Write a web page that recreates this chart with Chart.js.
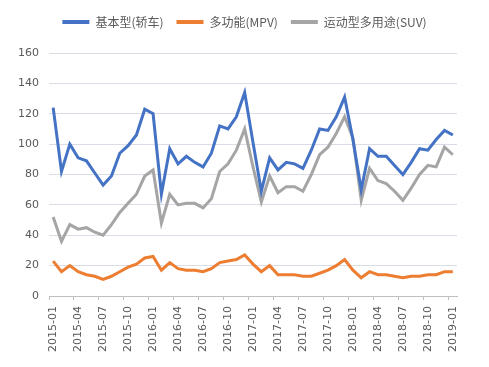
<!DOCTYPE html>
<html>
<head>
<meta charset="utf-8">
<script src="https://cdn.jsdelivr.net/npm/chart.js@4.4.1/dist/chart.umd.min.js"></script>
<style>
  html, body { margin: 0; padding: 0; background: #fff; }
  #wrap { width: 489px; height: 367px; }
</style>
</head>
<body>
<div id="wrap"><canvas id="c" width="489" height="367"></canvas></div>
<script>
// month labels
const months = [
  '2015-01','2015-02','2015-03','2015-04','2015-05','2015-06','2015-07','2015-08','2015-09','2015-10','2015-11','2015-12',
  '2016-01','2016-02','2016-03','2016-04','2016-05','2016-06','2016-07','2016-08','2016-09','2016-10','2016-11','2016-12',
  '2017-01','2017-02','2017-03','2017-04','2017-05','2017-06','2017-07','2017-08','2017-09','2017-10','2017-11','2017-12',
  '2018-01','2018-02','2018-03','2018-04','2018-05','2018-06','2018-07','2018-08','2018-09','2018-10','2018-11','2018-12',
  '2019-01'
];

// series
const sedan = [124,82,100,91,89,81,73,79,94,99,106,123,120,67,97,87,92,88,85,94,112,110,118,134,101,69,91,83,88,87,84,96,110,109,118,131,103,70,97,92,92,86,80,88,97,96,103,109,106];
const mpv   = [23,16,20,16,14,13,11,13,16,19,21,25,26,17,22,18,17,17,16,18,22,23,24,27,21,16,20,14,14,14,13,13,15,17,20,24,17,12,16,14,14,13,12,13,13,14,14,16,16];
const suv   = [52,36,47,44,45,42,40,47,55,61,67,79,83,48,67,60,61,61,58,64,82,87,96,110,85,62,79,68,72,72,69,80,93,98,107,118,104,63,84,76,74,69,63,71,80,86,85,98,93];

const seriesNames = ['基本型(轿车)', '多功能(MPV)', '运动型多用途(SUV)'];
const yTicks = [0, 20, 40, 60, 80, 100, 120, 140, 160];

const textColor = '#595959';
const tickFont = { family: 'DejaVu Sans', size: 11 };

function line(label, data, color) {
  return {
    label: label,
    data: data,
    borderColor: color,
    backgroundColor: color,
    borderWidth: 3,
    pointRadius: 0,
    tension: 0,
    fill: false
  };
}

// push the plot down below the legend
const legendGap = {
  id: 'legendGap',
  afterInit(chart) {
    const fit = chart.legend.fit;
    chart.legend.fit = function () {
      fit.call(this);
      this.height = 50;
    };
  }
};

new Chart(document.getElementById('c'), {
  type: 'line',
  data: {
    labels: months,
    datasets: [
      line(seriesNames[0], sedan, '#4472c4'),
      line(seriesNames[1], mpv, '#ed7d31'),
      line(seriesNames[2], suv, '#a5a5a5')
    ]
  },
  options: {
    responsive: false,
    animation: false,
    layout: { padding: { top: 3 } },
    plugins: {
      tooltip: { enabled: false },
      legend: {
        position: 'top',
        labels: {
          boxWidth: 27,
          boxHeight: 4,
          padding: 13,
          color: textColor,
          font: { family: 'Noto Sans CJK SC', size: 12 },
          generateLabels(chart) {
            return Chart.defaults.plugins.legend.labels.generateLabels(chart).map(l => {
              l.lineWidth = 0;
              return l;
            });
          }
        }
      }
    },
    scales: {
      x: {
        offset: true,
        grid: {
          offset: true,
          drawOnChartArea: false,
          drawTicks: true,
          tickLength: 4,
          color: ctx => (ctx.index % 3 === 0 ? '#bfbfbf' : 'rgba(0,0,0,0)')
        },
        border: { color: '#bfbfbf', width: 1 },
        ticks: {
          autoSkip: false,
          minRotation: 90,
          maxRotation: 90,
          padding: 6,
          color: textColor,
          font: tickFont,
          callback: function (v, i) { return i % 3 === 0 ? this.getLabelForValue(v) : ''; }
        },
        afterFit: s => { s.height = 71; }
      },
      y: {
        min: 0,
        max: 160,
        afterBuildTicks: s => { s.ticks = yTicks.map(v => ({ value: v })); },
        grid: { color: '#dadde6', drawTicks: false },
        border: { display: false },
        ticks: { padding: 10, color: textColor, font: tickFont },
        afterFit: s => { s.width = 49; }
      },
      y2: {
        position: 'right',
        display: true,
        grid: { display: false },
        border: { display: false },
        ticks: { display: false },
        afterFit: s => { s.width = 32; }
      }
    }
  },
  plugins: [legendGap]
});
</script>
</body>
</html>
